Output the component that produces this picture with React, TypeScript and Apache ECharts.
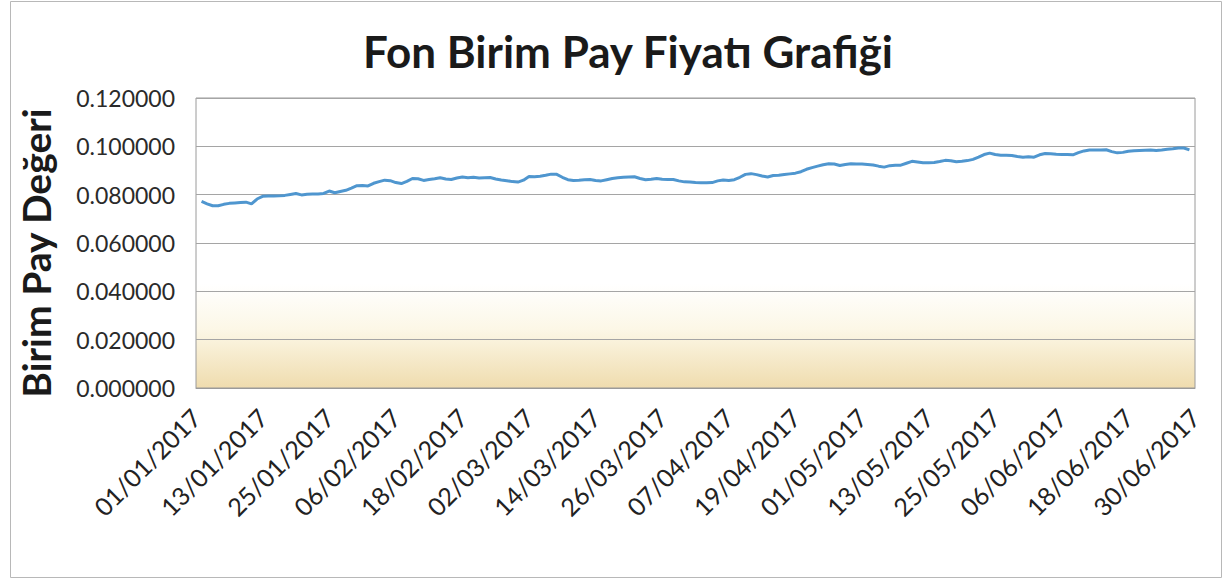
import React, { useEffect, useRef } from "react";
import * as echarts from "echarts";

const titleText = "Fon Birim Pay Fiyatı Grafiği";
const yAxisTitle = "Birim Pay Değeri";

function buildDates(): string[] {
  const out: string[] = [];
  const monthDays = [31, 28, 31, 30, 31, 30];
  for (let m = 0; m < monthDays.length; m++) {
    for (let d = 1; d <= monthDays[m]; d++) {
      out.push(`${String(d).padStart(2, "0")}/${String(m + 1).padStart(2, "0")}/2017`);
    }
  }
  return out;
}
const dates = buildDates();

const janValues = [
  null, 0.0772, 0.0762, 0.0754, 0.0754, 0.076, 0.0764, 0.0766, 0.0768, 0.0769,
  0.0762, 0.0782, 0.0793, 0.0794, 0.0794, 0.0795, 0.0797, 0.0801, 0.0805, 0.0799,
  0.0802, 0.0803, 0.0803, 0.0805, 0.0815, 0.0808, 0.0813, 0.0818, 0.0827, 0.0837,
  0.0838,
];
const febValues = [
  0.0836, 0.0847, 0.0854, 0.086, 0.0858, 0.085, 0.0846, 0.0855, 0.0867, 0.0866,
  0.0859, 0.0863, 0.0866, 0.087, 0.0865, 0.0863, 0.0869, 0.0873, 0.087, 0.0872,
  0.0869, 0.087, 0.0871, 0.0865, 0.0861, 0.0858, 0.0854, 0.0852,
];
const marValues = [
  0.086, 0.0875, 0.0874, 0.0876, 0.088, 0.0885, 0.0884, 0.0872, 0.0862, 0.0859,
  0.086, 0.0862, 0.0863, 0.0859, 0.0857, 0.0862, 0.0867, 0.087, 0.0872, 0.0873,
  0.0874, 0.0867, 0.0862, 0.0864, 0.0867, 0.0864, 0.0863, 0.0863, 0.0857, 0.0853,
  0.0852,
];
const aprValues = [
  0.085, 0.0849, 0.0849, 0.085, 0.0857, 0.0861, 0.0859, 0.0862, 0.0872, 0.0884,
  0.0887, 0.0883, 0.0877, 0.0873, 0.0879, 0.088, 0.0883, 0.0886, 0.0889, 0.0895,
  0.0905, 0.0912, 0.0918, 0.0924, 0.0928, 0.0927, 0.0921, 0.0925, 0.0928, 0.0927,
];
const mayValues = [
  0.0927, 0.0925, 0.0923, 0.0918, 0.0914, 0.092, 0.0922, 0.0922, 0.093, 0.0938,
  0.0935, 0.0932, 0.0932, 0.0933, 0.0937, 0.0942, 0.094, 0.0936, 0.0938, 0.0941,
  0.0946, 0.0955, 0.0966, 0.0972, 0.0966, 0.0963, 0.0963, 0.0962, 0.0958, 0.0955,
  0.0957,
];
const junValues = [
  0.0955, 0.0965, 0.097, 0.0969, 0.0967, 0.0966, 0.0966, 0.0965, 0.0974, 0.0981,
  0.0985, 0.0985, 0.0985, 0.0986, 0.0978, 0.0973, 0.0975, 0.098, 0.0982, 0.0983,
  0.0984, 0.0985, 0.0983, 0.0985, 0.0988, 0.099, 0.0993, 0.0993, 0.0985, null,
];
const priceValues = [
  ...janValues,
  ...febValues,
  ...marValues,
  ...aprValues,
  ...mayValues,
  ...junValues,
];

const yMin = 0;
const yMax = 0.12;
const yInterval = 0.02;

export default function App() {
  const ref = useRef<HTMLDivElement>(null);
  useEffect(() => {
    if (!ref.current) return;
    const chart = echarts.init(ref.current, null, { renderer: "svg" });
    const font = "Lato, 'Open Sans', sans-serif";
    chart.setOption({
      animation: false,
      backgroundColor: "#ffffff",
      title: {
        text: titleText,
        left: 623,
        top: 24,
        textAlign: "center",
        textStyle: {
          fontFamily: font,
          fontSize: 44,
          fontWeight: "bold",
          color: "#1a1a1a",
        },
      },
      graphic: [
        {
          type: "rect",
          shape: { x: 10.5, y: 1.5, width: 1211, height: 576 },
          style: { fill: "none", stroke: "#b8b8b8", lineWidth: 1 },
          silent: true,
        },
      ],
      grid: {
        left: 196,
        right: 36,
        top: 98,
        bottom: 199,
        show: true,
        borderColor: "#9a9a9a",
        borderWidth: 1,
        backgroundColor: {
          type: "linear",
          x: 0,
          y: 0,
          x2: 0,
          y2: 1,
          colorStops: [
            { offset: 0, color: "#ffffff" },
            { offset: 0.64, color: "#ffffff" },
            { offset: 0.8, color: "#fcf7e6" },
            { offset: 1, color: "#efdcae" },
          ],
        },
      },
      xAxis: {
        type: "category",
        data: dates,
        boundaryGap: false,
        axisLine: { show: true, lineStyle: { color: "#9a9a9a" } },
        axisTick: { show: false },
        splitLine: { show: false },
        axisLabel: {
          interval: 11,
          rotate: 45,
          margin: 25,
          fontFamily: font,
          fontSize: 25,
          color: "#222222",
        },
      },
      yAxis: {
        type: "value",
        min: yMin,
        max: yMax,
        interval: yInterval,
        name: yAxisTitle,
        nameLocation: "middle",
        nameRotate: 90,
        nameGap: 141,
        nameTextStyle: {
          fontFamily: font,
          fontSize: 39,
          fontWeight: "bold",
          color: "#1a1a1a",
          padding: [0, 20, 0, 0],
        },
        axisLine: { show: false },
        axisTick: { show: false },
        splitLine: { show: true, lineStyle: { color: "#a5a5a5", width: 1 } },
        axisLabel: {
          margin: 21,
          fontFamily: font,
          fontSize: 23,
          color: "#2a2a2a",
          formatter: (v: number) => v.toFixed(6),
        },
      },
      series: [
        {
          type: "line",
          data: priceValues,
          showSymbol: false,
          symbol: "none",
          connectNulls: false,
          lineStyle: { color: "#4f96cf", width: 3 },
          itemStyle: { color: "#4f96cf" },
        },
      ],
    });
    return () => chart.dispose();
  }, []);
  return (
    <div
      ref={ref}
      style={{ position: "absolute", left: 0, top: 0, width: 1231, height: 587 }}
    />
  );
}
